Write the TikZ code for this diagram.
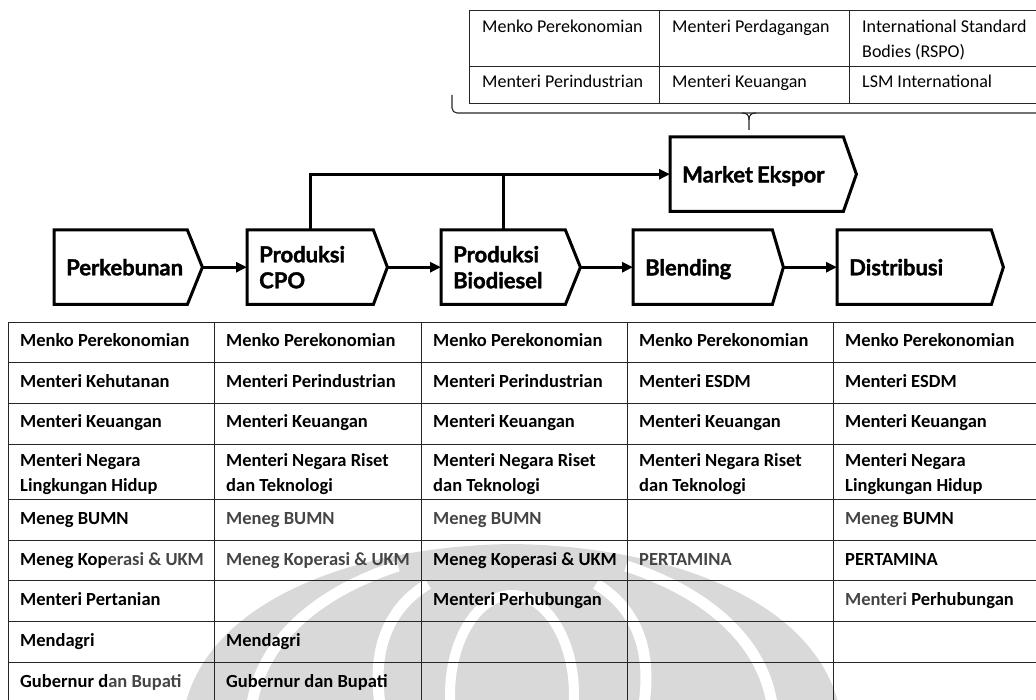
\documentclass[tikz,border=0pt]{standalone}
\usepackage{fontspec}
\setmainfont{Carlito}
\newfontfamily\stagefont[BoldFeatures={FakeBold=1.6}]{Lato}
\usetikzlibrary{arrows.meta}
\definecolor{markgrey}{gray}{0.85}
\definecolor{softink}{gray}{0.27}
\definecolor{rule}{gray}{0.15}

% chevron outline around a stage node, plus a named tip coordinate
\newcommand{\stageoutline}[2]{%
  \draw[outline] (#1.north west) -- (#1.north east) -- ([xshift=#2]#1.east)
    -- (#1.south east) -- (#1.south west) -- cycle;
  \coordinate (#1-tip) at ([xshift=#2]#1.east);}
\newcommand{\soft}[1]{\textcolor{softink}{#1}}
% label whose descenders are ignored when centring
\newcommand{\nodepth}[1]{\raisebox{0pt}[\height][0pt]{#1}}

\begin{document}
\begin{tikzpicture}[x=1pt,y=-1pt,
  stagebox/.style={rectangle, draw=none, anchor=north west, inner xsep=12pt,
    inner ysep=0pt, align=left, minimum height=74pt,
    font=\stagefont\bfseries\fontsize{22}{26}\selectfont},
  outline/.style={line width=3pt, line join=miter},
  flow/.style={line width=3pt, -{Triangle[length=11pt,width=10pt]}},
  link/.style={line width=3pt},
  grid/.style={line width=0.9pt, draw=rule},
  cell/.style={anchor=base west, inner sep=0pt,
    font=\bfseries\fontsize{18.5}{25}\selectfont},
  topcell/.style={anchor=base west, inner sep=0pt,
    font=\fontsize{18}{24.5}\selectfont},
  wmstripe/.style={draw=white, line width=11pt},
]
\useasboundingbox (0,0) rectangle (1036,700);
\clip (0,0) rectangle (1036,700);

% ---- faint emblem in the background ----
\fill[markgrey] (186,702) .. controls (214,598) and (358,546) .. (512,544)
  .. controls (666,546) and (810,598) .. (838,702) -- cycle;
\draw[wmstripe] (252,704) .. controls (262,640) and (318,592) .. (398,566);
\draw[wmstripe] (772,704) .. controls (762,640) and (706,592) .. (626,566);
\draw[wmstripe] (380,704) .. controls (372,650) and (388,608) .. (428,584);
\draw[wmstripe] (644,704) .. controls (652,650) and (636,608) .. (596,584);
\draw[draw=white, line width=10pt, fill=markgrey] (512,695) ellipse [x radius=62, y radius=100];

% ---- top table: export stakeholders ----
\draw[grid] (469,10.5) -- (1040,10.5) (469,66) -- (1040,66) (469,103) -- (1040,103);
\draw[grid] (469,10.5) -- (469,103) (659,10.5) -- (659,103) (849,10.5) -- (849,103);
\node[topcell] (x11) at (482,33) {Menko Perekonomian};
\node[topcell] (x12) at (672,33) {Menteri Perdagangan};
\node[topcell] (x13) at (862,33) {\parbox[t]{180pt}{International Standard\\Bodies (RSPO)}};
\node[topcell] (x21) at (482,88) {Menteri Perindustrian};
\node[topcell] (x22) at (672,88) {Menteri Keuangan};
\node[topcell] (x23) at (862,88) {LSM International};

% brace gathering the table onto the export market
\draw[line width=1.1pt, draw=rule, rounded corners=5pt] (452,95) -- (452,113) -- (1040,113);
\draw[line width=1.1pt, draw=rule] (742,113) .. controls (747,113) and (749,115) .. (749,120) -- (749,130);
\draw[line width=1.1pt, draw=rule] (756,113) .. controls (751,113) and (749,115) .. (749,120);

% ---- value chain stages ----
\node[stagebox, minimum width=133pt, text width=109pt] (perk) at (54,230) {Perkebunan};
\node[stagebox, minimum width=126pt, text width=102pt] (cpo) at (247,230) {Produksi\\CPO};
\node[stagebox, minimum width=124pt, text width=100pt] (bio) at (441,230) {Produksi\\Biodiesel};
\node[stagebox, minimum width=139pt, text width=115pt] (blend) at (633,230) {\nodepth{Blending}};
\node[stagebox, minimum width=154pt, text width=130pt] (dist) at (837,230) {Distribusi};
\node[stagebox, minimum width=173pt, text width=149pt] (mkt) at (670,137) {\nodepth{Market\hspace{0.18em}Ekspor}};
\stageoutline{perk}{15pt}
\stageoutline{cpo}{14pt}
\stageoutline{bio}{15pt}
\stageoutline{blend}{11pt}
\stageoutline{dist}{12pt}
\stageoutline{mkt}{13pt}

\draw[flow] (perk-tip) -- (cpo.west);
\draw[flow] (cpo-tip) -- (bio.west);
\draw[flow] (bio-tip) -- (blend.west);
\draw[flow] (blend-tip) -- (dist.west);

\coordinate (cpo-out) at ([xshift=63pt]cpo.north west);
\coordinate (bio-out) at ([xshift=62pt]bio.north west);
\draw[flow] (cpo-out) |- (mkt.west);
\draw[link] (bio-out) -- (bio-out |- mkt.west);

% ---- bottom table: actors per stage ----
\draw[grid] (8,322) -- (1040,322) (8,362.5) -- (1040,362.5) (8,403) -- (1040,403)
  (8,444) -- (1040,444) (8,499) -- (1040,499) (8,540) -- (1040,540)
  (8,580) -- (1040,580) (8,621) -- (1040,621) (8,662) -- (1040,662);
\draw[grid] (8,322) -- (8,702) (214,322) -- (214,702) (421,322) -- (421,702)
  (627,322) -- (627,702) (833,322) -- (833,702);

% row 1
\node[cell] (a11) at (20,347) {Menko Perekonomian};
\node[cell] (a12) at (226,347) {Menko Perekonomian};
\node[cell] (a13) at (433,347) {Menko Perekonomian};
\node[cell] (a14) at (639,347) {Menko Perekonomian};
\node[cell] (a15) at (845,347) {Menko Perekonomian};
% row 2
\node[cell] (a21) at (20,387.5) {Menteri Kehutanan};
\node[cell] (a22) at (226,387.5) {Menteri Perindustrian};
\node[cell] (a23) at (433,387.5) {Menteri Perindustrian};
\node[cell] (a24) at (639,387.5) {Menteri ESDM};
\node[cell] (a25) at (845,387.5) {Menteri ESDM};
% row 3
\node[cell] (a31) at (20,428) {Menteri Keuangan};
\node[cell] (a32) at (226,428) {Menteri Keuangan};
\node[cell] (a33) at (433,428) {Menteri Keuangan};
\node[cell] (a34) at (639,428) {Menteri Keuangan};
\node[cell] (a35) at (845,428) {Menteri Keuangan};
% row 4
\node[cell] (a41) at (20,466) {\parbox[t]{190pt}{Menteri Negara\\Lingkungan Hidup}};
\node[cell] (a42) at (226,466) {\parbox[t]{190pt}{Menteri Negara Riset\\dan Teknologi}};
\node[cell] (a43) at (433,466) {\parbox[t]{190pt}{Menteri Negara Riset\\dan Teknologi}};
\node[cell] (a44) at (639,466) {\parbox[t]{190pt}{Menteri Negara Riset\\dan Teknologi}};
\node[cell] (a45) at (845,466) {\parbox[t]{190pt}{Menteri Negara\\Lingkungan Hidup}};
% row 5
\node[cell] (a51) at (20,524) {Meneg BUMN};
\node[cell] (a52) at (226,524) {\soft{Meneg BUMN}};
\node[cell] (a53) at (433,524) {\soft{Meneg BUMN}};
\node[cell] (a55) at (845,524) {\soft{Meneg} BUMN};
% row 6
\node[cell] (a61) at (20,565) {Meneg Kop\soft{erasi \& UKM}};
\node[cell] (a62) at (226,565) {\soft{Meneg Koperasi \& UKM}};
\node[cell] (a63) at (433,565) {Meneg Koperasi \& UKM};
\node[cell] (a64) at (639,565) {\soft{PERTAMINA}};
\node[cell] (a65) at (845,565) {PERTAMINA};
% row 7
\node[cell] (a71) at (20,605) {Menteri Pertanian};
\node[cell] (a73) at (433,605) {Menteri Perhubungan};
\node[cell] (a75) at (845,605) {\soft{Menteri} Perhubungan};
% row 8
\node[cell] (a81) at (20,646) {Mendagri};
\node[cell] (a82) at (226,646) {Mendagri};
% row 9
\node[cell] (a91) at (20,687) {Gubernur d\soft{an Bupati}};
\node[cell] (a92) at (226,687) {Gubernur dan Bupati};
\end{tikzpicture}
\end{document}
